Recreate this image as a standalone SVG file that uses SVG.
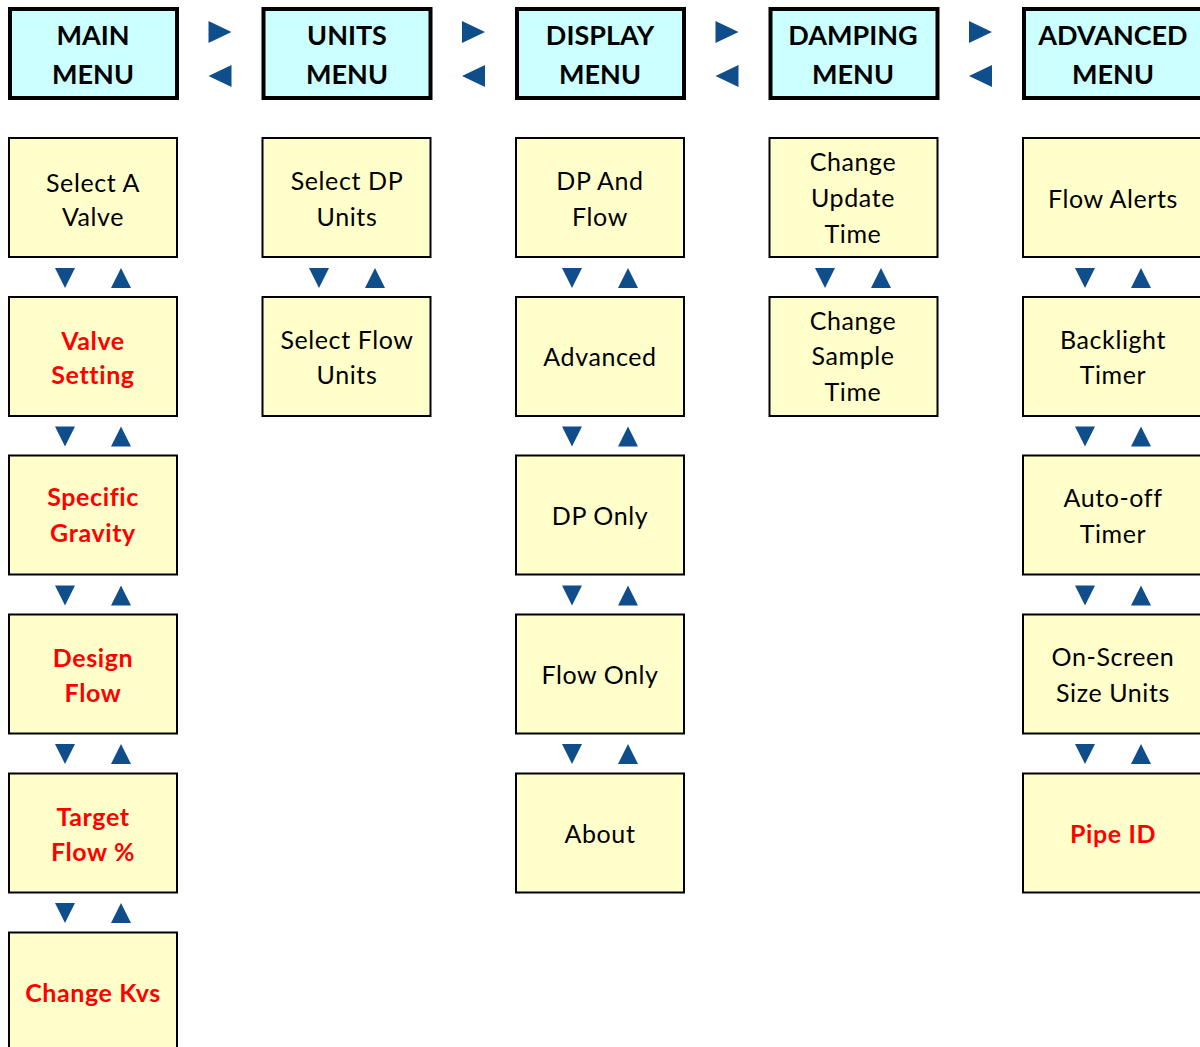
<svg xmlns="http://www.w3.org/2000/svg" width="1200" height="1047" viewBox="0 0 1200 1047">
<defs>
<style>
.hd{fill:#CCFFFF;stroke:#000;stroke-width:4}
.it{fill:#FFFFCC;stroke:#000;stroke-width:2}
.ht{font-family:Lato,"Liberation Sans",sans-serif;font-weight:bold;font-size:27px;fill:#000;text-anchor:middle}
.t{font-family:Lato,"Liberation Sans",sans-serif;font-size:25px;letter-spacing:0.6px;fill:#000;text-anchor:middle}
.r{font-family:Lato,"Liberation Sans",sans-serif;font-weight:bold;font-size:25px;letter-spacing:0.6px;fill:#FF0000;text-anchor:middle}
.ar{fill:#104E8B}
</style>
<path id="dn" d="M-10,-10 L10,-10 L0,10 Z"/>
<path id="up" d="M-10,10 L10,10 L0,-10 Z"/>
<path id="rt" d="M-11,-11 L12,0 L-11,11 Z"/>
<path id="lt" d="M11,-11 L-12,0 L11,11 Z"/>
</defs>
<rect width="1200" height="1047" fill="#fff"/>

<g id="headers">
<g id="h-main"><rect class="hd" x="10" y="9" width="167" height="89"/><text class="ht" x="93" y="45">MAIN</text><text class="ht" x="93" y="84">MENU</text></g>
<g id="h-units"><rect class="hd" x="263.5" y="9" width="167" height="89"/><text class="ht" x="347" y="45">UNITS</text><text class="ht" x="347" y="84">MENU</text></g>
<g id="h-display"><rect class="hd" x="517" y="9" width="167" height="89"/><text class="ht" x="600" y="45">DISPLAY</text><text class="ht" x="600" y="84">MENU</text></g>
<g id="h-damping"><rect class="hd" x="770.5" y="9" width="167" height="89"/><text class="ht" x="853" y="45">DAMPING</text><text class="ht" x="853" y="84">MENU</text></g>
<g id="h-advanced"><rect class="hd" x="1024" y="9" width="190" height="89"/><text class="ht" x="1113" y="45">ADVANCED</text><text class="ht" x="1113" y="84">MENU</text></g>
</g>

<g id="connectors" class="ar">
<use href="#rt" x="219.5" y="32"/><use href="#lt" x="220.5" y="76"/>
<use href="#rt" x="473" y="32"/><use href="#lt" x="474" y="76"/>
<use href="#rt" x="726.5" y="32"/><use href="#lt" x="727.5" y="76"/>
<use href="#rt" x="980" y="32"/><use href="#lt" x="981" y="76"/>

<use href="#dn" x="65" y="278"/><use href="#up" x="121" y="278"/>
<use href="#dn" x="65" y="436.5"/><use href="#up" x="121" y="436.5"/>
<use href="#dn" x="65" y="595.5"/><use href="#up" x="121" y="595.5"/>
<use href="#dn" x="65" y="754"/><use href="#up" x="121" y="754"/>
<use href="#dn" x="65" y="913"/><use href="#up" x="121" y="913"/>

<use href="#dn" x="319" y="278"/><use href="#up" x="375" y="278"/>

<use href="#dn" x="572" y="278"/><use href="#up" x="628" y="278"/>
<use href="#dn" x="572" y="436.5"/><use href="#up" x="628" y="436.5"/>
<use href="#dn" x="572" y="595.5"/><use href="#up" x="628" y="595.5"/>
<use href="#dn" x="572" y="754"/><use href="#up" x="628" y="754"/>

<use href="#dn" x="825" y="278"/><use href="#up" x="881" y="278"/>

<use href="#dn" x="1085" y="278"/><use href="#up" x="1141" y="278"/>
<use href="#dn" x="1085" y="436.5"/><use href="#up" x="1141" y="436.5"/>
<use href="#dn" x="1085" y="595.5"/><use href="#up" x="1141" y="595.5"/>
<use href="#dn" x="1085" y="754"/><use href="#up" x="1141" y="754"/>
</g>

<g id="main-items">
<g id="n-select-valve"><rect class="it" x="9" y="138" width="168" height="119"/><text class="t" x="93" y="192">Select A</text><text class="t" x="93" y="226">Valve</text></g>
<g id="n-valve-setting"><rect class="it" x="9" y="297" width="168" height="119"/><text class="r" x="93" y="350">Valve</text><text class="r" x="93" y="384">Setting</text></g>
<g id="n-specific-gravity"><rect class="it" x="9" y="455.5" width="168" height="119"/><text class="r" x="93" y="506">Specific</text><text class="r" x="93" y="542">Gravity</text></g>
<g id="n-design-flow"><rect class="it" x="9" y="614.5" width="168" height="119"/><text class="r" x="93" y="667">Design</text><text class="r" x="93" y="702">Flow</text></g>
<g id="n-target-flow"><rect class="it" x="9" y="773.5" width="168" height="119"/><text class="r" x="93" y="826">Target</text><text class="r" x="93" y="861">Flow %</text></g>
<g id="n-change-kvs"><rect class="it" x="9" y="932.5" width="168" height="130"/><text class="r" x="93" y="1002">Change Kvs</text></g>
</g>

<g id="units-items">
<g id="n-select-dp-units"><rect class="it" x="262.5" y="138" width="168" height="119"/><text class="t" x="347" y="190">Select DP</text><text class="t" x="347" y="226">Units</text></g>
<g id="n-select-flow-units"><rect class="it" x="262.5" y="297" width="168" height="119"/><text class="t" x="347" y="349">Select Flow</text><text class="t" x="347" y="384">Units</text></g>
</g>

<g id="display-items">
<g id="n-dp-and-flow"><rect class="it" x="516" y="138" width="168" height="119"/><text class="t" x="600" y="190">DP And</text><text class="t" x="600" y="226">Flow</text></g>
<g id="n-advanced"><rect class="it" x="516" y="297" width="168" height="119"/><text class="t" x="600" y="366">Advanced</text></g>
<g id="n-dp-only"><rect class="it" x="516" y="455.5" width="168" height="119"/><text class="t" x="600" y="525">DP Only</text></g>
<g id="n-flow-only"><rect class="it" x="516" y="614.5" width="168" height="119"/><text class="t" x="600" y="684">Flow Only</text></g>
<g id="n-about"><rect class="it" x="516" y="773.5" width="168" height="119"/><text class="t" x="600" y="843">About</text></g>
</g>

<g id="damping-items">
<g id="n-change-update"><rect class="it" x="769.5" y="138" width="168" height="119"/><text class="t" x="853" y="171">Change</text><text class="t" x="853" y="207">Update</text><text class="t" x="853" y="243">Time</text></g>
<g id="n-change-sample"><rect class="it" x="769.5" y="297" width="168" height="119"/><text class="t" x="853" y="330">Change</text><text class="t" x="853" y="365">Sample</text><text class="t" x="853" y="401">Time</text></g>
</g>

<g id="advanced-items">
<g id="n-flow-alerts"><rect class="it" x="1023" y="138" width="190" height="119"/><text class="t" x="1113" y="208">Flow Alerts</text></g>
<g id="n-backlight"><rect class="it" x="1023" y="297" width="190" height="119"/><text class="t" x="1113" y="349">Backlight</text><text class="t" x="1113" y="384">Timer</text></g>
<g id="n-auto-off"><rect class="it" x="1023" y="455.5" width="190" height="119"/><text class="t" x="1113" y="507">Auto-off</text><text class="t" x="1113" y="543">Timer</text></g>
<g id="n-on-screen"><rect class="it" x="1023" y="614.5" width="190" height="119"/><text class="t" x="1113" y="666">On-Screen</text><text class="t" x="1113" y="702">Size Units</text></g>
<g id="n-pipe-id"><rect class="it" x="1023" y="773.5" width="190" height="119"/><text class="r" x="1113" y="843">Pipe ID</text></g>
</g>
</svg>
